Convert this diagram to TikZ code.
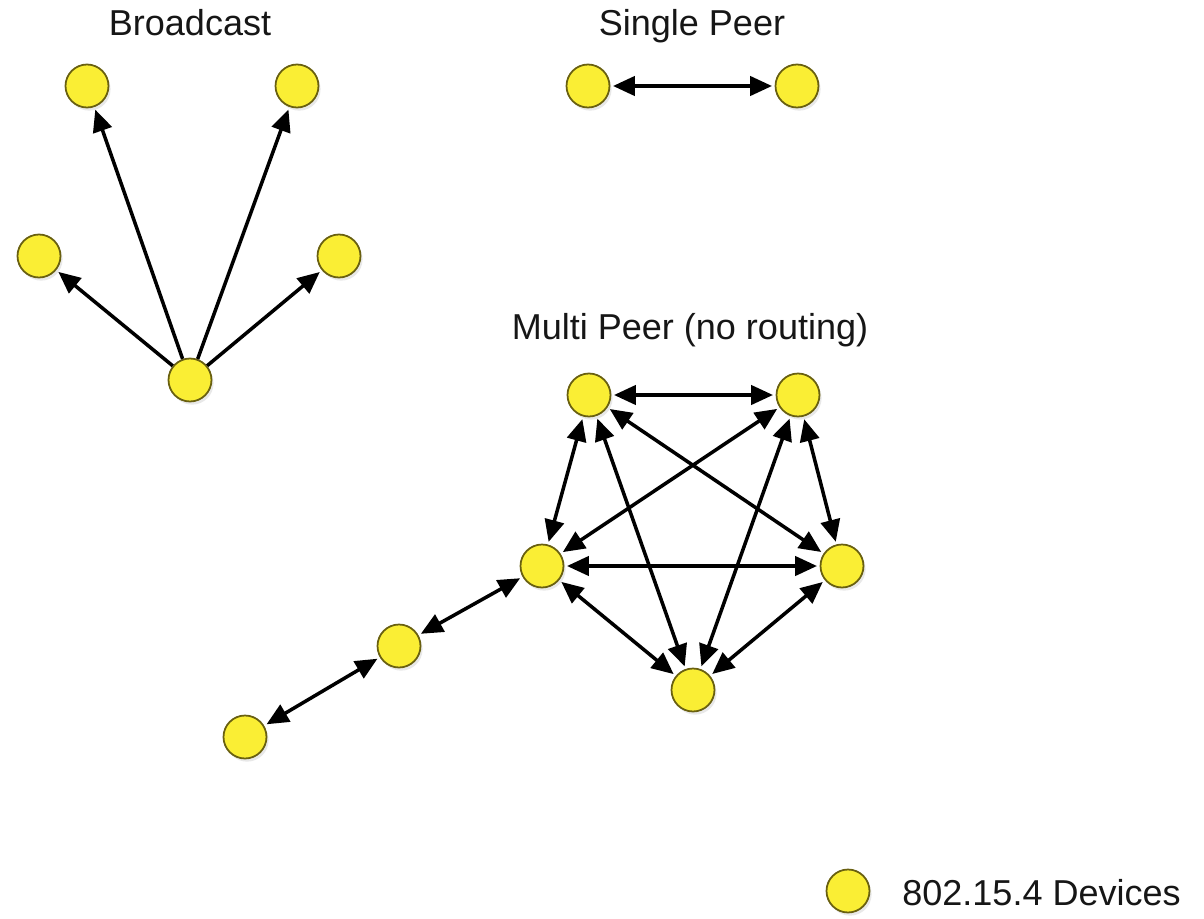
\documentclass[tikz,border=0pt]{standalone}
\usepackage{fontspec}
\setmainfont{Liberation Sans}
\usetikzlibrary{positioning,arrows.meta,shadows}
\definecolor{devfill}{RGB}{250,238,52}
\definecolor{devline}{RGB}{105,96,16}
\definecolor{txt}{RGB}{22,22,22}

\begin{document}
\begin{tikzpicture}[x=0.02cm,y=-0.02cm,font=\fontsize{20.5}{24}\selectfont,
  dev/.style={draw=devline,line width=1pt,circle,fill=devfill,minimum size=0.86cm,inner sep=0pt,
    drop shadow={opacity=0.18,shadow xshift=1.2pt,shadow yshift=-1.8pt}},
  lnk/.style={line width=2pt,-{Triangle[length=12.5pt,width=11pt]},shorten >=1.5pt},
  bi/.style={lnk,{Triangle[length=12.5pt,width=11pt]}-{Triangle[length=12.5pt,width=11pt]},shorten <=1.5pt},
  ttl/.style={anchor=base,text=txt,inner sep=0pt}]
  \useasboundingbox (0,0) rectangle (1204,919);
  % broadcast
  \node[ttl] (tb) at (190,36) {Broadcast};
  \node[dev] (b0) at (190,380) {};
  \node[dev] (b1) at (87,86) {};
  \node[dev] (b2) at (297,86) {};
  \node[dev] (b3) at (39,256) {};
  \node[dev] (b4) at (339,256) {};
  \foreach \t in {b1,b2,b3,b4}
    \draw[lnk] (b0) -- (\t);
  % single peer
  \node[ttl] (ts) at (692,36) {Single Peer};
  \node[dev] (s1) at (588,86) {};
  \node[dev] (s2) at (797,86) {};
  \draw[bi] (s1) -- (s2);
  % multi peer
  \node[ttl] (tm) at (690,339) {Multi Peer (no routing)};
  \node[dev] (m1) at (589,395) {};
  \node[dev] (m2) at (798,395) {};
  \node[dev] (m3) at (842,566) {};
  \node[dev] (m4) at (693,690) {};
  \node[dev] (m5) at (542,566) {};
  \foreach \a/\b in {m1/m2,m1/m3,m1/m4,m1/m5,m2/m3,m2/m4,m2/m5,m3/m4,m3/m5,m4/m5}
    \draw[bi] (\a) -- (\b);
  \node[dev] (c1) at (399,646) {};
  \node[dev] (c2) at (245,737) {};
  \draw[bi] (m5) -- (c1);
  \draw[bi] (c1) -- (c2);
  % legend
  \node[dev] (lg) at (848,891) {};
  \node[ttl,anchor=base west] (lt) at (902,905) {802.15.4 Devices};
\end{tikzpicture}
\end{document}
